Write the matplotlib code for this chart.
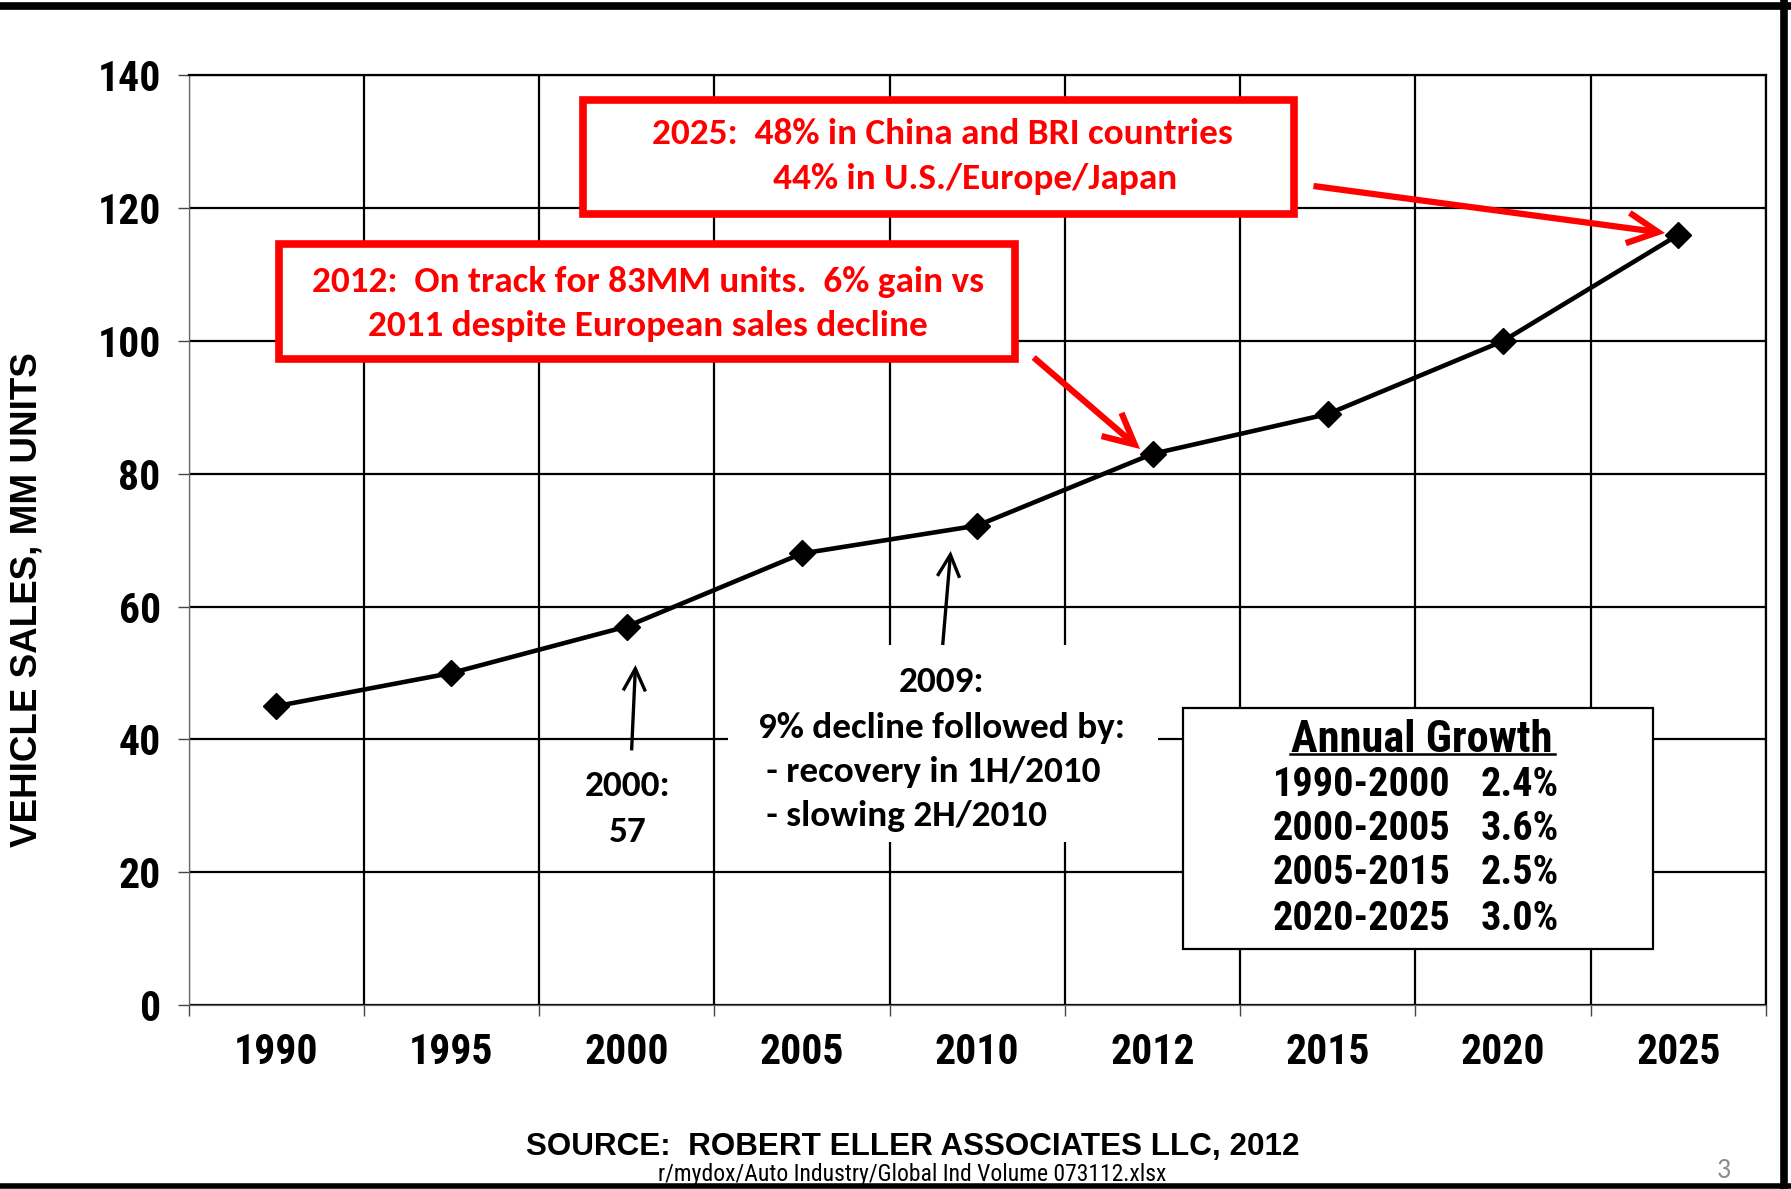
import matplotlib
matplotlib.use('Agg')
import matplotlib.pyplot as plt
from matplotlib import font_manager as fm
from matplotlib.patches import Rectangle, FancyArrowPatch
from matplotlib.lines import Line2D

# ---------------- data ----------------
categories = ['1990', '1995', '2000', '2005', '2010', '2012', '2015', '2020', '2025']
sales = [45, 50, 57, 68, 72.2, 83, 89, 100, 116]
y_ticks = [0, 20, 40, 60, 80, 100, 120, 140]
growth_periods = ['1990-2000', '2000-2005', '2005-2015', '2020-2025']
growth_rates = ['2.4%', '3.6%', '2.5%', '3.0%']

y_label = 'VEHICLE SALES, MM UNITS'
box2025_lines = ['2025:  48% in China and BRI countries', '44% in U.S./Europe/Japan']
box2012_lines = ['2012:  On track for 83MM units.  6% gain vs', '2011 despite European sales decline']
note2009_lines = ['2009:', '9% decline followed by:', ' - recovery in 1H/2010', ' - slowing 2H/2010']
note2000_lines = ['2000:', '57']
growth_title = 'Annual Growth'
source_text = 'SOURCE:  ROBERT ELLER ASSOCIATES LLC, 2012'
file_text = 'r/mydox/Auto Industry/Global Ind Volume 073112.xlsx'
page_text = '3'

# ---------------- fonts ----------------
names = {f.name for f in fm.fontManager.ttflist}
def pick(*cands):
    for c in cands:
        if c in names:
            return c
    return 'DejaVu Sans'
NARROW = pick('Liberation Sans Narrow', 'Arial Narrow', 'Roboto Condensed', 'Liberation Sans')
ARIAL = pick('Liberation Sans', 'Arial', 'DejaVu Sans')
CAL = pick('Carlito', 'Calibri', 'Lato', 'Open Sans')

W, H, DPI = 1791, 1189, 100
fig = plt.figure(figsize=(W / DPI, H / DPI), dpi=DPI)
fig.patch.set_facecolor('white')

def P(x, y):
    return (x / W, 1 - y / H)

# ---------------- axes ----------------
L, R, T, B = 188.5, 1766, 75.4, 1005
ax = fig.add_axes([L / W, 1 - B / H, (R - L) / W, (B - T) / H])
xs = list(range(len(categories)))
ax.plot(xs, sales, color='black', lw=3.3, marker='D', ms=13.5, zorder=5, clip_on=False)
ax.set_xlim(-0.5, len(categories) - 0.5)
ax.set_ylim(0, 140)
ax.set_yticks(y_ticks)
ax.set_xticks(xs)
ax.set_xticklabels(categories)
ax.set_xticks([i - 0.5 for i in range(len(categories) + 1)], minor=True)
ax.tick_params(axis='x', which='major', length=0, pad=19.5)
ax.tick_params(axis='x', which='minor', length=8, width=1.0, direction='out', color='#444444')
ax.tick_params(axis='y', which='major', length=8, width=1.0, direction='out', color='#444444', pad=12)
ax.grid(axis='y', which='major', color='black', lw=1.6)
ax.grid(axis='x', which='minor', color='black', lw=1.6)
ax.set_axisbelow(True)
for side in ['left', 'bottom']:
    ax.spines[side].set_color('#666666')
    ax.spines[side].set_linewidth(0.9)
for side in ['top', 'right']:
    ax.spines[side].set_color('black')
    ax.spines[side].set_linewidth(1.6)
for lab in ax.get_xticklabels() + ax.get_yticklabels():
    lab.set_fontfamily(NARROW)
    lab.set_fontweight('bold')
    lab.set_fontsize(30)

fig.text(27 / W, 1 - 600 / H, y_label, rotation=90, ha='center', va='center',
         fontsize=26.5, fontweight='bold', family=ARIAL)

# ---------------- slide frame ----------------
fig.add_artist(Line2D([0, 1], [1 - 5.5 / H, 1 - 5.5 / H], transform=fig.transFigure, color='black', lw=5.5))
fig.add_artist(Line2D([1784 / W, 1784 / W], [0, 1], transform=fig.transFigure, color='black', lw=5.5))
fig.add_artist(Line2D([0, 1], [1 - 1186 / H, 1 - 1186 / H], transform=fig.transFigure, color='black', lw=4))

# ---------------- helpers ----------------
def rect(x0, y0, x1, y1, ec, lw, fc='white', z=3):
    fig.add_artist(Rectangle(P(x0, y1), (x1 - x0) / W, (y1 - y0) / H, transform=fig.transFigure,
                             facecolor=fc, edgecolor=ec, lw=lw, zorder=z))

def arrow(x0, y0, x1, y1, color, lw, hl, hw):
    fig.add_artist(FancyArrowPatch(P(x0, y0), P(x1, y1), transform=fig.transFigure,
                                   arrowstyle=f'->,head_length={hl},head_width={hw}',
                                   color=color, lw=lw, shrinkA=0, shrinkB=0,
                                   mutation_scale=1, zorder=6, capstyle='butt', joinstyle='miter'))

def txt(x, y, s, size, color='black', ha='center', fam=None, weight='bold', z=7):
    fig.text(x / W, 1 - y / H, s, ha=ha, va='center', fontsize=size, color=color,
             family=fam or CAL, fontweight=weight, zorder=z)

RED = '#ff0000'
CS = 26.8  # callout font size
DY = 2.5   # small vertical correction for callout text

# 2025 box
rect(582.5, 100.5, 1294, 213.6, RED, 5.5)
txt(942, 131 + DY, box2025_lines[0], CS, RED)
txt(975, 176 + DY, box2025_lines[1], CS, RED)
arrow(1313.5, 186, 1665, 233, RED, 4.5, 22, 11)

# 2012 box
rect(278.7, 244.4, 1015.4, 358.6, RED, 5.5)
txt(647.6, 280 + DY, box2012_lines[0], CS, RED)
txt(647.6, 324 + DY, box2012_lines[1], CS, RED)
arrow(1033.7, 357.5, 1140, 449, RED, 4.5, 22, 11)

# 2009 note (white background masks gridlines)
rect(727.7, 645, 1158, 841.7, 'none', 0, fc='white', z=2)
txt(942, 680 + DY, note2009_lines[0], CS)
txt(942, 725 + DY, note2009_lines[1], CS)
txt(758, 769 + DY, note2009_lines[2], CS, ha='left')
txt(758, 814 + DY, note2009_lines[3], CS, ha='left')
arrow(942.7, 645, 950.7, 551, 'black', 2.4, 16, 8)

# 2000 note
txt(628, 784 + DY, note2000_lines[0], CS)
txt(628, 829 + DY, note2000_lines[1], CS)
arrow(631.6, 750.4, 635.5, 665, 'black', 2.4, 16, 8)

# Annual growth box
rect(1183, 708, 1653, 949, 'black', 1.6)
txt(1422, 740, growth_title, 32, fam=NARROW)
fig.add_artist(Line2D([1289.5 / W, 1554.5 / W], [1 - 753.5 / H, 1 - 753.5 / H],
                      transform=fig.transFigure, color='black', lw=1.8, zorder=7))
row_y = [784.5, 829.5, 873.5, 918.5]
for yy, per, rate in zip(row_y, growth_periods, growth_rates):
    txt(1272.5, yy, per, 29, ha='left', fam=NARROW)
    txt(1481, yy, rate, 29, ha='left', fam=NARROW)

# footer
txt(913, 1147.5, source_text, 22.6, fam=ARIAL)
txt(912, 1175, file_text, 17, fam=NARROW, weight='normal')
txt(1724, 1170, page_text, 20, color='#8c8c8c', fam=CAL, weight='normal')

fig.savefig('out.png', dpi=DPI)
